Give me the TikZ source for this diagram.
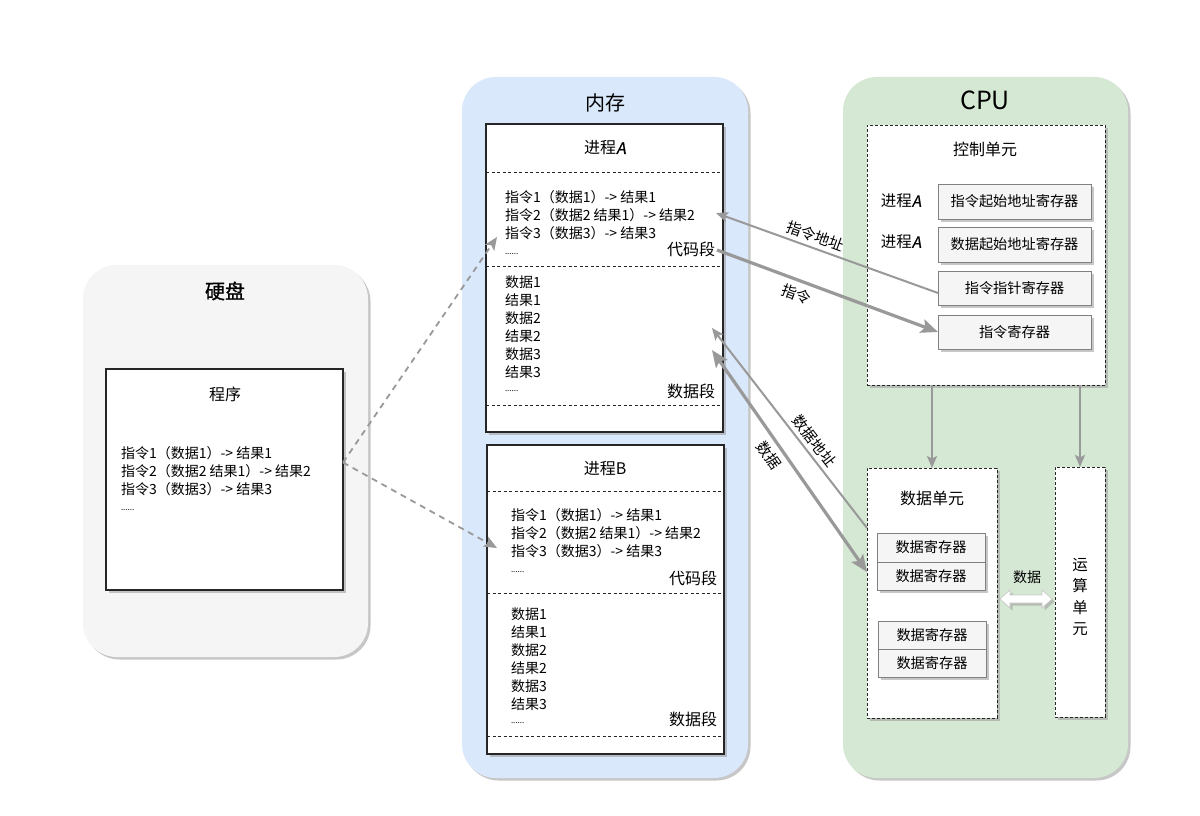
\documentclass[tikz,border=0pt]{standalone}
\usepackage{fontspec}
\setmainfont{Noto Sans CJK SC}
\newfontfamily\slantA[FakeSlant=0.18,FakeBold=0.6]{Noto Sans CJK SC}
\newfontfamily\boldtitle[FakeBold=0.8]{Noto Sans CJK SC}
\usetikzlibrary{arrows.meta,shadows,calc}
\definecolor{diskfill}{HTML}{F5F5F5}
\definecolor{memfill}{HTML}{DAE8FC}
\definecolor{cpufill}{HTML}{D5E8D4}
\definecolor{arrowgray}{HTML}{999999}
\definecolor{regfill}{HTML}{F5F5F5}
\newcommand\myfs[1]{\fontsize{#1}{#1}\selectfont}
\newcommand\codeblock[3]{% prefix, x, y first line
  \node[ln] (#1c1) at (#2,#3) {指令1（数据1）-> 结果1};
  \node[ln] (#1c2) at (#2,#3+18) {指令2（数据2 结果1）-> 结果2};
  \node[ln] (#1c3) at (#2,#3+36) {指令3（数据3）-> 结果3};
  \node[dots] (#1c4) at (#2,#3+57) {......};
}
\newcommand\datablock[3]{% prefix, x, y first line
  \foreach \t [count=\i] in {数据1,结果1,数据2,结果2,数据3,结果3}
    \node[ln] (#1d\i) at (#2,#3+18*\i-18) {\t};
  \node[dots] (#1d7) at (#2,#3+109) {......};
}
\begin{document}
\begin{tikzpicture}[x=1pt,y=-1pt,
  every node/.style={inner sep=0pt, outer sep=0pt},
  shad/.style={drop shadow={shadow xshift=2.5pt, shadow yshift=-2.5pt, fill=black!40, opacity=0.55}},
  container/.style={rounded corners=34pt, draw=none, shad},
  box/.style={draw=black!85, line width=1.1pt, fill=white, shad},
  dbox/.style={draw=black!85, dash pattern=on 3pt off 2pt, line width=1pt, fill=white, shad},
  reg/.style={draw=black!50, line width=0.8pt, fill=regfill, font=\myfs{14.2}, shad},
  sep/.style={draw=black!85, dash pattern=on 3pt off 2.5pt, line width=0.8pt},
  ln/.style={anchor=west, font=\myfs{14}},
  dots/.style={anchor=west, font=\myfs{8}},
  seg/.style={anchor=east, font=\myfs{16}},
  title/.style={font=\myfs{20}},
  sub/.style={font=\myfs{16}},
  lbl/.style={font=\myfs{15}, inner sep=1pt},
  garrow/.style={draw=arrowgray, line width=2pt, -{Stealth[length=12pt,width=10pt,inset=2.5pt]}},
  gthick/.style={draw=arrowgray, line width=3.2pt, -{Stealth[length=17pt,width=14pt,inset=3.5pt]}},
  gdash/.style={draw=arrowgray, line width=1.8pt, dash pattern=on 6pt off 5pt, -{Stealth[length=13pt,width=11pt,inset=3pt]}},
]
\fill[white] (0,0) rectangle (1200,816);
\useasboundingbox (0,0) rectangle (1200,816);

% ---------- containers ----------
\node[container, fill=diskfill, minimum width=285pt, minimum height=392pt] (disk) at (225.5,461) {};
\node[container, fill=memfill, minimum width=286pt, minimum height=701pt] (mem) at (605,427.5) {};
\node[container, fill=cpufill, minimum width=285pt, minimum height=701pt] (cpu) at (985.5,427.5) {};
\node[font=\myfs{20}\boldtitle] (disktitle) at (225,291) {硬盘};
\node[title] (memtitle) at (605,103) {内存};
\node[font=\myfs{25}] (cputitle) at (985,100) {CPU};

% ---------- disk: program ----------
\node[box, minimum width=237pt, minimum height=221pt] (prog) at (224.5,479.5) {};
\node[sub] (progtitle) at (225,394) {程序};
\codeblock{pg}{121}{453}

% ---------- memory: process A ----------
\node[box, minimum width=237pt, minimum height=308pt] (pa) at (604.5,278) {};
\node[sub] (patitle) at (605,148) {进程{\slantA A}};
\draw[sep] (pa.west |- 0,172) -- (pa.east |- 0,172);
\codeblock{pa}{505}{197}
\node[seg] (pacode) at (715,249) {代码段};
\draw[sep] (pa.west |- 0,266) -- (pa.east |- 0,266);
\datablock{pa}{505}{282}
\node[seg] (padata) at (715,391) {数据段};
\draw[sep] (pa.west |- 0,405) -- (pa.east |- 0,405);

% ---------- memory: process B ----------
\node[box, minimum width=237pt, minimum height=309pt] (pb) at (605.5,599.5) {};
\node[sub] (pbtitle) at (605,469) {进程B};
\draw[sep] (pb.west |- 0,491) -- (pb.east |- 0,491);
\codeblock{pb}{511}{515}
\node[seg] (pbcode) at (717,578) {代码段};
\draw[sep] (pb.west |- 0,593) -- (pb.east |- 0,593);
\datablock{pb}{511}{614}
\node[seg] (pbdata) at (717,719) {数据段};
\draw[sep] (pb.west |- 0,736) -- (pb.east |- 0,736);

% ---------- CPU: control unit ----------
\node[dbox, minimum width=238pt, minimum height=260pt] (cu) at (986,255) {};
\node[sub] (cutitle) at (985,149) {控制单元};
\node[font=\myfs{15.5}] (cupa1) at (901,201) {进程{\slantA A}};
\node[font=\myfs{15.5}] (cupa2) at (901,242) {进程{\slantA A}};
\node[reg, minimum width=153pt, minimum height=35pt] (isar) at (1014.5,201.5) {指令起始地址寄存器};
\node[reg, minimum width=153pt, minimum height=35pt] (dsar) at (1014.5,244.5) {数据起始地址寄存器};
\node[reg, minimum width=153pt, minimum height=34pt] (ipr) at (1014.5,288) {指令指针寄存器};
\node[reg, minimum width=153pt, minimum height=34pt] (ir) at (1014.5,332) {指令寄存器};

% ---------- CPU: data unit ----------
\node[dbox, minimum width=130pt, minimum height=250pt] (du) at (932,593) {};
\node[sub] (dutitle) at (932,498) {数据单元};
\node[reg, minimum width=108pt, minimum height=29pt] (dr1) at (931,547.5) {数据寄存器};
\node[reg, minimum width=108pt, minimum height=28pt] (dr2) at (931,576) {数据寄存器};
\node[reg, minimum width=108pt, minimum height=28pt] (dr3) at (932,635) {数据寄存器};
\node[reg, minimum width=108pt, minimum height=28pt] (dr4) at (932,663) {数据寄存器};

% ---------- CPU: ALU ----------
\node[dbox, minimum width=50pt, minimum height=250pt] (au) at (1080,592) {};
\node[font=\fontsize{15.5}{21.3}\selectfont, align=center] (autext) at (1080,597) {运\\算\\单\\元};

% ---------- connectors inside CPU ----------
\draw[garrow] (cu.south -| du.north) -- (du.north);
\draw[garrow] (cu.south -| au.north) -- (au.north);
\coordinate (dfl) at ($(du.east)+(3,6)$);
\draw[fill=white, draw=black!22, line width=0.6pt, shad]
  (dfl) -- ++(10,-9) -- ++(0,5) -- ++(32,0) -- ++(0,-5) -- ++(10,9)
  -- ++(-10,9) -- ++(0,-5) -- ++(-32,0) -- ++(0,5) -- cycle;
\node[font=\myfs{14}] (dflabel) at (1027,577) {数据};

% ---------- disk -> memory ----------
\coordinate (ps) at ($(prog.east)+(0,-17)$);
\coordinate (pain) at (497,237);
\coordinate (pbin) at (497,548);
\draw[gdash] (ps) -- (pain);
\draw[gdash] (ps) -- (pbin);

% ---------- CPU <-> memory ----------
\coordinate (iaddr) at (716,213);
\coordinate (iout) at (717,250);
\coordinate (daddr) at (712,328);
\coordinate (ddata) at (712,350);
\coordinate (duA) at ($(du.north west)+(0,60)$);
\coordinate (duB) at ($(du.north west)+(0,104)$);
\draw[garrow] ($(ipr.west)+(0,5)$) -- (iaddr)
  node[lbl, pos=0.57, sloped, above=4pt] (lblia) {指令地址};
\draw[gthick] (iout) -- (ir.west)
  node[lbl, pos=0.38, sloped, below=6pt] (lbli) {指令};
\draw[garrow] (duA) -- (daddr)
  node[lbl, pos=0.40, sloped, above=4pt] (lblda) {数据地址};
\draw[gthick, {Stealth[length=17pt,width=14pt,inset=3.5pt]}-{Stealth[length=17pt,width=14pt,inset=3.5pt]}] (ddata) -- (duB)
  node[lbl, pos=0.44, sloped, below=6pt] (lbld) {数据};
\end{tikzpicture}
\end{document}
